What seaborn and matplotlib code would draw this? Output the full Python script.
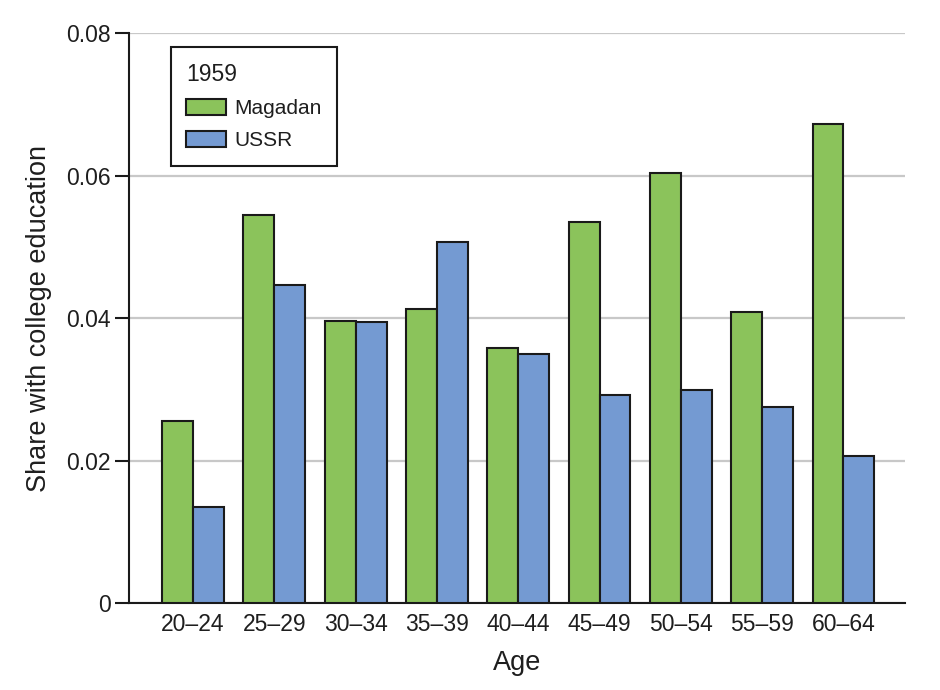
import numpy as np
import pandas as pd
import matplotlib
matplotlib.use("Agg")
import matplotlib.pyplot as plt
import seaborn as sns

# data
ages = ["20\u201324", "25\u201329", "30\u201334", "35\u201339", "40\u201344",
        "45\u201349", "50\u201354", "55\u201359", "60\u201364"]
magadan = [0.0255, 0.0545, 0.0396, 0.0413, 0.0358, 0.0535, 0.0603, 0.0408, 0.0673]
ussr = [0.0135, 0.0447, 0.0394, 0.0507, 0.0349, 0.0292, 0.0299, 0.0275, 0.0206]
series = ["Magadan", "USSR"]
y_ticks = [0, 0.02, 0.04, 0.06, 0.08]
y_tick_labels = ["0", "0.02", "0.04", "0.06", "0.08"]

df = pd.DataFrame({
    "Age": ages * 2,
    "Share": magadan + ussr,
    "Region": [series[0]] * len(ages) + [series[1]] * len(ages),
})

sns.set_style("white")
plt.rcParams["font.family"] = ["Liberation Sans", "DejaVu Sans"]
plt.rcParams["text.color"] = "#1e1e1e"
plt.rcParams["axes.labelcolor"] = "#1e1e1e"
plt.rcParams["xtick.color"] = "#1e1e1e"
plt.rcParams["ytick.color"] = "#1e1e1e"

fig = plt.figure(figsize=(9.4, 6.9), dpi=100)
ax = fig.add_axes([0.137, 0.126, 0.826, 0.826])

palette = {"Magadan": "#8bc35b", "USSR": "#749ad2"}
sns.barplot(data=df, x="Age", y="Share", hue="Region", hue_order=series,
            order=ages, palette=palette, width=0.76, gap=0,
            edgecolor="#1a1a1a", linewidth=1.5, saturation=1, ax=ax, zorder=3)

ax.set_xlim(-0.79, 8.76)
ax.set_ylim(0, 0.08)
ax.set_yticks(y_ticks)
ax.set_yticklabels(y_tick_labels)
ax.yaxis.grid(True, color="#c8c8c8", linewidth=1.6, zorder=0)
ax.set_axisbelow(True)

for side in ["top", "right"]:
    ax.spines[side].set_visible(False)
for side in ["left", "bottom"]:
    ax.spines[side].set_color("#1a1a1a")
    ax.spines[side].set_linewidth(1.5)

ax.tick_params(axis="y", which="major", length=10, width=1.5, color="#1a1a1a",
               labelsize=16.5, pad=3, left=True)
ax.tick_params(axis="x", length=0, labelsize=16.5, pad=7)
ax.set_xlabel("Age", fontsize=19.5, labelpad=10)
ax.set_ylabel("Share with college education", fontsize=19.5, labelpad=10)

leg = ax.legend(title="1959", loc="upper left", bbox_to_anchor=(0.054, 0.975),
                fontsize=15, title_fontsize=16.5, frameon=True, fancybox=False,
                alignment="left", handlelength=1.9, handleheight=0.8,
                handletextpad=0.4, borderpad=0.75, labelspacing=0.62,
                borderaxespad=0)
leg.get_frame().set_edgecolor("#1a1a1a")
leg.get_frame().set_linewidth(1.5)
leg.get_frame().set_alpha(1)

fig.savefig("out.png", dpi=100)
